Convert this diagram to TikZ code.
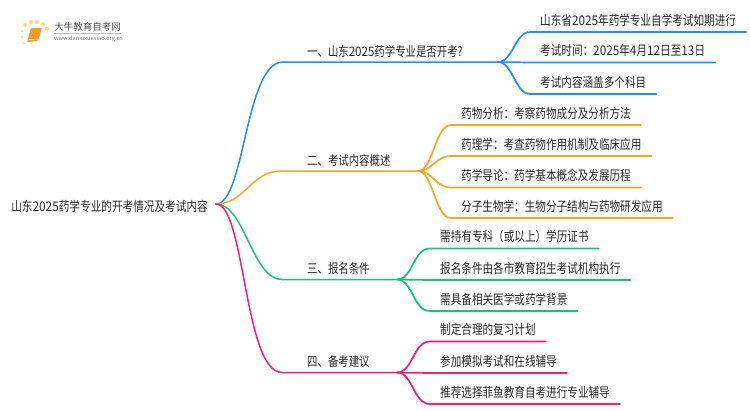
\documentclass[tikz,border=0pt]{standalone}
\usepackage{fontspec}
\setmainfont[FakeStretch=0.8]{Noto Sans CJK SC}
\newfontfamily\digitfont[FakeStretch=0.89]{Noto Sans CJK SC}
\newfontfamily\logofont{Noto Sans CJK SC}
\newcommand{\dg}[1]{{\digitfont #1}}
\definecolor{bluebr}{HTML}{1E90FF}
\definecolor{orangebr}{HTML}{F9A81C}
\definecolor{greenbr}{HTML}{14C47C}
\definecolor{pinkbr}{HTML}{FF1A75}
\definecolor{bookor}{HTML}{F59A23}
\definecolor{dotor}{HTML}{FFD37F}
\tikzset{
	roottext/.style={inner xsep=8pt, inner ysep=0pt, text height=10pt, text depth=2pt, font=\fontsize{13.3pt}{15pt}\selectfont, text=black!85},
	brtext/.style={anchor=south west, inner xsep=0pt, inner ysep=3.4pt, text height=10pt, text depth=2pt, font=\fontsize{13pt}{15pt}\selectfont, text=black!85},
	leaf/.style={anchor=south west, inner xsep=10pt, inner ysep=4.5pt, text height=10pt, text depth=2pt, font=\fontsize{13.25pt}{15pt}\selectfont, text=black!85},
	brline/.style={line width=1.5pt, line cap=round},
	leafline/.style={line width=1.7pt, line cap=round},
	logodot/.style={circle, fill=dotor, inner sep=0pt, minimum size=#1}
}
\begin{document}
\begin{tikzpicture}[x=1pt, y=-1pt]
	\useasboundingbox (0, 0) rectangle (750, 410);
	% logo
	\node[logodot=4pt] (D1)at(25, 25) {};
	\node[logodot=4pt] (D2)at(31, 22) {};
	\node[logodot=4pt] (D3)at(37, 22) {};
	\node[logodot=4pt] (D4)at(43, 24) {};
	\node[logodot=4.5pt] (D5)at(47, 29) {};
	\node[logodot=2.5pt] (D6)at(22, 31) {};
	\node[logodot=2.5pt] (D7)at(22, 37) {};
	\node[logodot=2pt] (D8)at(24, 43) {};
	\fill[bookor, rounded corners=1pt] (31, 28) -- (42, 28) -- (38, 41) -- (27, 42) -- cycle;
	\draw[white, line width=0.5pt] (29, 39.5) -- (38.5, 39);
	\node[inner sep=0pt, font=\logofont\fontsize{9.5pt}{10pt}\selectfont, text=black!70] (LT)at(87.5, 27) {大牛教育自考网};
	\draw[black!25, line width=0.6pt] (54, 33.5) -- (121, 33.5);
	\node[inner sep=0pt, font=\logofont\fontsize{5.7pt}{6pt}\selectfont, text=black!55] (LU)at(88.5, 39) {www.daniuxuexiao.org.cn};
	% root
	\node[roottext, anchor=east] (root)at(216, 207.5) {山东\dg{2025}药学专业的开考情况及考试内容};
	\coordinate (R)at([yshift=3.5pt]root.east);
	% branch labels
	\node[brtext] (B1)at(307, 62) {一、山东\dg{2025}药学专业是否开考?};
	\node[brtext] (B2)at(307, 171) {二、考试内容概述};
	\node[brtext] (B3)at(307, 279.5) {三、报名条件};
	\node[brtext] (B4)at(307, 372.5) {四、备考建议};
	\coordinate (S1)at(283, 62);
	\coordinate (S2)at(281, 171);
	\coordinate (S3)at(282, 279.5);
	\coordinate (S4)at(282, 372.5);
	\coordinate (J1)at(498, 62);
	\coordinate (J2)at(418, 171);
	\coordinate (J3)at(397, 279.5);
	\coordinate (J4)at(397, 372.5);
	% leaves
	\node[leaf] (A1)at(530, 32) {山东省\dg{2025}年药学专业自学考试如期进行};
	\node[leaf] (A2)at(530, 62.5) {考试时间：\dg{2025}年\dg{4}月\dg{12}日至\dg{13}日};
	\node[leaf] (A3)at(530, 94) {考试内容涵盖多个科目};
	\node[leaf] (C1)at(451, 125) {药物分析：考察药物成分及分析方法};
	\node[leaf] (C2)at(451, 156) {药理学：考查药物作用机制及临床应用};
	\node[leaf] (C3)at(451, 187.5) {药学导论：药学基本概念及发展历程};
	\node[leaf] (C4)at(451, 218) {分子生物学：生物分子结构与药物研发应用};
	\node[leaf] (E1)at(430, 248.5) {需持有专科（或以上）学历证书};
	\node[leaf] (E2)at(430, 280) {报名条件由各市教育招生考试机构执行};
	\node[leaf] (E3)at(430, 311) {需具备相关医学或药学背景};
	\node[leaf] (F1)at(430, 341.5) {制定合理的复习计划};
	\node[leaf] (F2)at(430, 373) {参加模拟考试和在线辅导};
	\node[leaf] (F3)at(430, 404) {推荐选择菲鱼教育自考进行专业辅导};
	% blue
	\draw[brline, bluebr] (R) .. controls +(29, 0) and +(-38, 0) .. (S1) -- (J1);
	\draw[leafline, bluebr] (J1) .. controls +(15, 0) and +(-15, 0) .. (A1.south west) -- (A1.south east);
	\draw[leafline, bluebr] (J1) -- (A2.south west) -- (A2.south east);
	\draw[leafline, bluebr] (J1) .. controls +(15, 0) and +(-15, 0) .. (A3.south west) -- (A3.south east);
	% orange
	\draw[brline, orangebr] (R) .. controls +(29, 0) and +(-30, 0) .. (S2) -- (J2);
	\draw[leafline, orangebr] (J2) .. controls +(15, 0) and +(-16, 0) .. (C1.south west) -- (C1.south east);
	\draw[leafline, orangebr] (J2) .. controls +(15, 0) and +(-16, 0) .. (C2.south west) -- (C2.south east);
	\draw[leafline, orangebr] (J2) .. controls +(15, 0) and +(-16, 0) .. (C3.south west) -- (C3.south east);
	\draw[leafline, orangebr] (J2) .. controls +(15, 0) and +(-16, 0) .. (C4.south west) -- (C4.south east);
	% green
	\draw[brline, greenbr] (R) .. controls +(29, 0) and +(-30, 0) .. (S3) -- (J3);
	\draw[leafline, greenbr] (J3) .. controls +(16, 0) and +(-17, 0) .. (E1.south west) -- (E1.south east);
	\draw[leafline, greenbr] (J3) -- (E2.south west) -- (E2.south east);
	\draw[leafline, greenbr] (J3) .. controls +(16, 0) and +(-17, 0) .. (E3.south west) -- (E3.south east);
	% pink
	\draw[brline, pinkbr] (R) .. controls +(29, 0) and +(-38, 0) .. (S4) -- (J4);
	\draw[leafline, pinkbr] (J4) .. controls +(16, 0) and +(-17, 0) .. (F1.south west) -- (F1.south east);
	\draw[leafline, pinkbr] (J4) -- (F2.south west) -- (F2.south east);
	\draw[leafline, pinkbr] (J4) .. controls +(16, 0) and +(-17, 0) .. (F3.south west) -- (F3.south east);
\end{tikzpicture}
\end{document}
